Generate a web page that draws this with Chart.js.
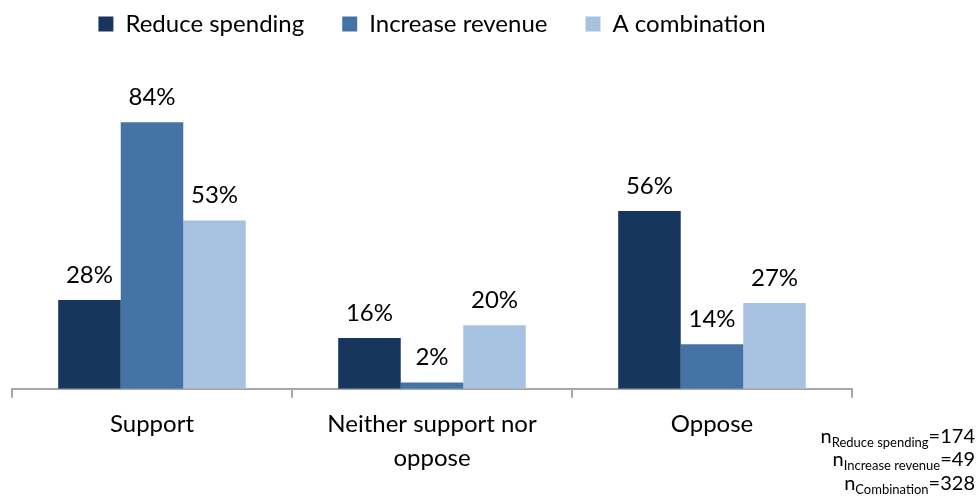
<!DOCTYPE html>
<html>
<head>
<meta charset="utf-8">
<script src="https://cdn.jsdelivr.net/npm/chart.js@4/dist/chart.umd.min.js"></script>
<style>
html,body{margin:0;padding:0;background:#fff;}
#wrap{width:979px;height:498px;position:relative;}
</style>
</head>
<body>
<div id="wrap"><canvas id="c" width="979" height="498"></canvas></div>
<script>
const categories = ['Support', ['Neither support nor', 'oppose'], 'Oppose'];
const seriesNames = ['Reduce spending', 'Increase revenue', 'A combination'];
const reduceSpending = [28, 16, 56];
const increaseRevenue = [84, 2, 14];
const combination = [53, 20, 27];
const sampleNotes = [['Reduce spending', '174'], ['Increase revenue', '49'], ['Combination', '328']];

const colors = ['#17365D', '#4673A5', '#A7C2E1'];
const FONT = 'Lato, "Open Sans", sans-serif';

const valueLabels = {
  id: 'valueLabels',
  afterDatasetsDraw(chart) {
    const ctx = chart.ctx;
    ctx.save();
    ctx.font = '24px ' + FONT;
    ctx.fillStyle = '#000';
    ctx.textAlign = 'center';
    ctx.textBaseline = 'bottom';
    chart.data.datasets.forEach((ds, i) => {
      const meta = chart.getDatasetMeta(i);
      meta.data.forEach((el, j) => {
        ctx.fillText(ds.data[j] + '%', el.x, el.y - 13);
      });
    });
    ctx.restore();
  }
};

const notes = {
  id: 'notes',
  afterDraw(chart) {
    const ctx = chart.ctx;
    ctx.save();
    ctx.fillStyle = '#000';
    ctx.textBaseline = 'alphabetic';
    const right = 975;
    const ys = [443, 466, 490];
    sampleNotes.forEach((n, i) => {
      ctx.font = '20px ' + FONT;
      const eqText = '=' + n[1];
      const wEq = ctx.measureText(eqText).width;
      ctx.font = '13px ' + FONT;
      const wSub = ctx.measureText(n[0]).width;
      ctx.font = '20px ' + FONT;
      const wN = ctx.measureText('n').width;
      let x = right - wEq - wSub - wN;
      ctx.textAlign = 'left';
      ctx.fillText('n', x, ys[i]);
      x += wN;
      ctx.font = '13px ' + FONT;
      ctx.fillText(n[0], x, ys[i] + 4);
      x += wSub;
      ctx.font = '20px ' + FONT;
      ctx.fillText(eqText, x, ys[i]);
    });
    ctx.restore();
  }
};

new Chart(document.getElementById('c'), {
  type: 'bar',
  data: {
    labels: categories,
    datasets: [
      { label: seriesNames[0], data: reduceSpending, backgroundColor: colors[0] },
      { label: seriesNames[1], data: increaseRevenue, backgroundColor: colors[1] },
      { label: seriesNames[2], data: combination, backgroundColor: colors[2] }
    ]
  },
  options: {
    responsive: false,
    animation: false,
    layout: { padding: { left: 12, right: 127, top: -26, bottom: 13 } },
    datasets: { bar: { categoryPercentage: 0.67, barPercentage: 1.0 } },
    plugins: {
      legend: {
        position: 'top',
        labels: {
          boxWidth: 15, boxHeight: 15, padding: 38,
          color: '#000',
          font: { size: 24, family: FONT }
        }
      },
      tooltip: { enabled: false }
    },
    scales: {
      x: {
        grid: { display: true, drawOnChartArea: false, offset: true, color: '#A6A6A6', tickLength: 9, lineWidth: 2 },
        border: { display: true, color: '#A6A6A6', width: 2 },
        ticks: { color: '#000', font: { size: 24, family: FONT, lineHeight: 1.4 }, padding: 10, maxRotation: 0 }
      },
      y: {
        display: false,
        min: 0, max: 108
      }
    }
  },
  plugins: [valueLabels, notes]
});
</script>
</body>
</html>
